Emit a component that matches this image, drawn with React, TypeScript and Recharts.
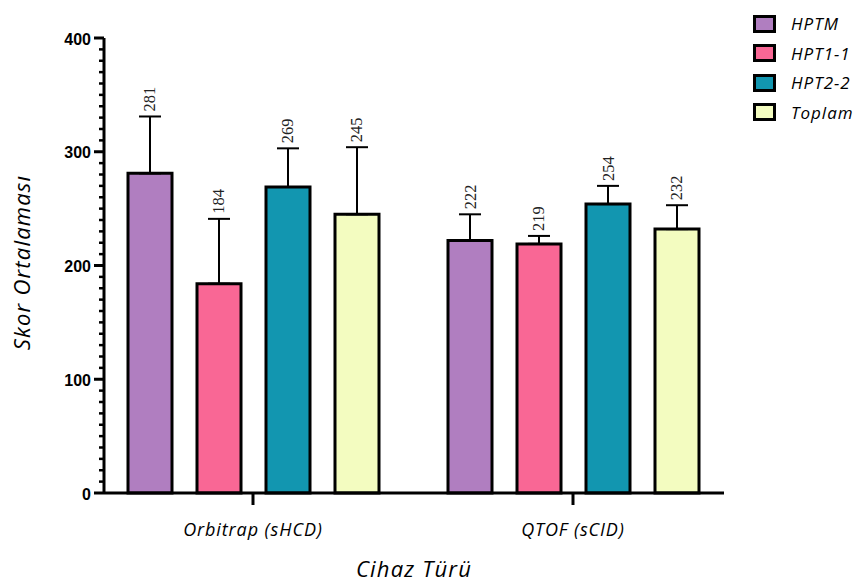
import React from 'react';
import { BarChart, Bar, XAxis, YAxis, ErrorBar, LabelList, Label } from 'recharts';

const categories = ['Orbitrap (sHCD)', 'QTOF (sCID)'];
const seriesNames = ['HPTM', 'HPT1-1', 'HPT2-2', 'Toplam'];
const hptm = [281, 222];
const hptmErr = [50, 23];
const hpt11 = [184, 219];
const hpt11Err = [57, 7];
const hpt22 = [269, 254];
const hpt22Err = [34, 16];
const toplam = [245, 232];
const toplamErr = [59, 21];
const yMajorTicks = [0, 100, 200, 300, 400];
const yTicks = Array.from({ length: 41 }, (_, i) => i * 10);

const colors = ['#B07EC0', '#F96795', '#1296B0', '#F3FCC0'];
const keys = ['hptm', 'hpt11', 'hpt22', 'toplam'];
const values = [hptm, hpt11, hpt22, toplam];
const errors = [hptmErr, hpt11Err, hpt22Err, toplamErr];

const data = categories.map((name, i) => {
  const row: any = { name };
  keys.forEach((k, s) => {
    row[k] = values[s][i];
    row[k + 'Err'] = [0, errors[s][i]];
  });
  return row;
});

const hand = '"Open Sans", sans-serif';

const YTick = (props: any) => {
  const { x, y, payload } = props;
  const major = yMajorTicks.includes(payload.value);
  const len = major ? 10 : 5;
  return (
    <g>
      <line x1={x - len} x2={x} y1={y} y2={y} stroke="#000" strokeWidth={major ? 3 : 2.5} />
      {major && (
        <text x={x - 13} y={y + 1} textAnchor="end" dominantBaseline="central"
          fontFamily="Liberation Sans, Arial, sans-serif" fontWeight="bold" fontSize={16} fill="#000">
          {payload.value}
        </text>
      )}
    </g>
  );
};

const makeValueLabel = (errs: number[]) => (props: any) => {
  const { x, y, width, height, value, index } = props;
  const cx = x + width / 2;
  const capY = y - (errs[index] * height) / value;
  const ty = capY - 5;
  return (
    <text x={cx} y={ty} transform={`rotate(-90 ${cx} ${ty})`} textAnchor="start" dominantBaseline="central"
      fontFamily="Liberation Serif, Times New Roman, serif" fontSize={16.5} fill="#222">
      {value}
    </text>
  );
};

const YTitle = (props: any) => {
  const { viewBox } = props;
  const cx = 21;
  const cy = viewBox.y + viewBox.height / 2 - 3;
  return (
    <text x={cx} y={cy} transform={`rotate(-90 ${cx} ${cy})`} textAnchor="middle" dominantBaseline="central"
      fontFamily={hand} fontStyle="italic" fontSize={22} letterSpacing={1.2} fill="#000">
      Skor Ortalaması
    </text>
  );
};

export default function App() {
  return (
    <div style={{ position: 'absolute', left: 0, top: 0, width: 859, height: 588, background: '#fff' }}>
      <BarChart width={859} height={588} data={data} barSize={44} barGap={25}
        margin={{ top: 38, right: 135, left: 5, bottom: 5 }}>
        <XAxis dataKey="name" height={90} padding={{ left: -11, right: -9 }}
          axisLine={{ stroke: '#000', strokeWidth: 3 }}
          tickLine={{ stroke: '#000', strokeWidth: 3 }} tickSize={12} tickMargin={18}
          tick={{ fill: '#000', fontSize: 18, fontStyle: 'italic', fontFamily: hand, letterSpacing: 0.9 }}>
          <Label value="Cihaz Türü" position="insideBottom" offset={6}
            style={{ fill: '#000', fontSize: 22, fontStyle: 'italic', fontFamily: hand, letterSpacing: 1.2 }} />
        </XAxis>
        <YAxis width={99} domain={[0, 400]} ticks={yTicks} interval={0} tickSize={0} tickMargin={0}
          tickLine={false} axisLine={{ stroke: '#000', strokeWidth: 3 }} tick={<YTick />}>
          <Label content={<YTitle />} />
        </YAxis>
        {keys.map((k, s) => (
          <Bar key={k} dataKey={k} name={seriesNames[s]} fill={colors[s]} stroke="#000" strokeWidth={3}
            isAnimationActive={false}>
            <ErrorBar dataKey={k + 'Err'} width={11} stroke="#000" strokeWidth={2} direction="y" />
            <LabelList dataKey={k} content={makeValueLabel(errors[s])} />
          </Bar>
        ))}
      </BarChart>
      <div style={{ position: 'absolute', left: 753, top: 9 }}>
        {seriesNames.map((n, s) => (
          <div key={n} style={{ display: 'flex', alignItems: 'center', height: 29.5 }}>
            <div style={{ width: 17, height: 12, background: colors[s], border: '3px solid #000' }} />
            <span style={{ marginLeft: 15, fontFamily: hand, fontStyle: 'italic', fontSize: 17, letterSpacing: 1, color: '#000' }}>{n}</span>
          </div>
        ))}
      </div>
    </div>
  );
}
